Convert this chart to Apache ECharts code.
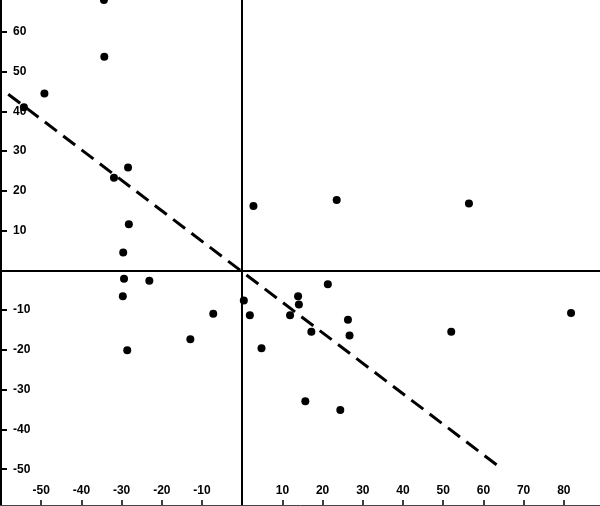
<!DOCTYPE html>
<html>
<head>
<meta charset="utf-8">
<script src="https://cdn.jsdelivr.net/npm/echarts@6/dist/echarts.min.js"></script>
<style>
  html, body { margin: 0; padding: 0; background: #fff; }
  #chart { width: 600px; height: 506px; }
</style>
</head>
<body>
<div id="chart"></div>
<script>
// scatter points
const pointX = [-34.4, -34.3, -49.2, -54.3, -28.4, -31.9, -28.2, -29.6, -29.4, -23.1, -29.7, -12.9, -28.6,
  2.8, 23.5, 21.3, 13.9, 14.1, 0.4, -7.2, 1.9, 11.9, 26.3, 17.2, 26.7, 4.8, 15.7, 24.4, 56.4, 52, 81.8];
const pointY = [68, 53.7, 44.5, 41, 25.9, 23.3, 11.6, 4.5, -2.1, -2.6, -6.5, -17.3, -20.1,
  16.2, 17.7, -3.5, -6.5, -8.6, -7.6, -10.9, -11.3, -11.3, -12.4, -15.4, -16.4, -19.6, -32.9, -35.1, 16.8, -15.4, -10.7];

// dashed fit line endpoints
const fitX = [-58.2, 64.2];
const fitY = [44.3, -49.6];

// tick labels
const xTicks = [-50, -40, -30, -20, -10, 10, 20, 30, 40, 50, 60, 70, 80];
const yTicks = [-50, -40, -30, -20, -10, 10, 20, 30, 40, 50, 60];

const points = pointX.map((x, i) => [x, pointY[i]]);
const fitLine = fitX.map((x, i) => [x, fitY[i]]);

const labelFont = {
  color: "#000",
  fontFamily: "Liberation Sans",
  fontWeight: "bold",
  fontSize: 12
};

const chart = echarts.init(document.getElementById("chart"));
const option = {
  animation: false,
  grid: { left: 1, right: 0, top: 0, bottom: 1 },
  xAxis: {
    type: "value",
    min: -60,
    max: 89,
    splitLine: { show: false },
    axisLine: { show: true, onZero: false, lineStyle: { color: "#444", width: 1 } },
    axisTick: { show: true, inside: true, length: 5, customValues: xTicks, lineStyle: { color: "#000", width: 1.5 } },
    axisLabel: { inside: true, margin: 8, customValues: xTicks, ...labelFont }
  },
  yAxis: {
    type: "value",
    min: -59,
    max: 68,
    splitLine: { show: false },
    axisLine: { show: true, onZero: false, lineStyle: { color: "#000", width: 2 } },
    axisTick: { show: true, inside: true, length: 6, customValues: yTicks, lineStyle: { color: "#000", width: 2 } },
    axisLabel: { inside: true, margin: 12, customValues: yTicks, ...labelFont }
  },
  series: [
    {
      type: "line",
      data: fitLine,
      symbol: "none",
      silent: true,
      lineStyle: { color: "#000", width: 3, type: [15, 8] },
      markLine: {
        silent: true,
        symbol: "none",
        label: { show: false },
        lineStyle: { color: "#000", width: 2, type: "solid" },
        data: [{ xAxis: 0 }, { yAxis: 0 }]
      }
    },
    {
      type: "scatter",
      data: points,
      symbolSize: 8,
      itemStyle: { color: "#000", opacity: 1 }
    }
  ]
};
chart.setOption(option);
</script>
</body>
</html>
